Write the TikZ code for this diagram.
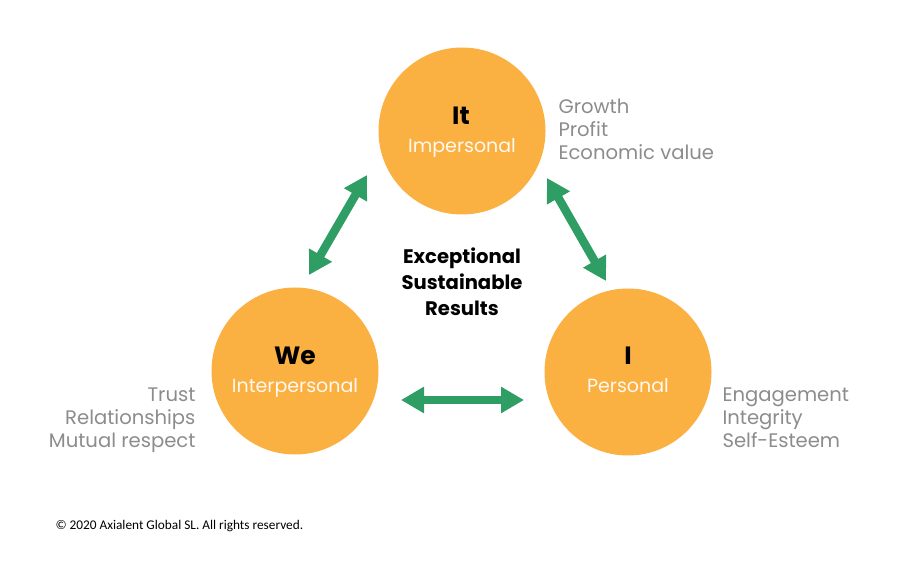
\documentclass[tikz,border=0pt]{standalone}
\usepackage{fontspec}
\setmainfont{Poppins}
\newfontfamily\notefont{Carlito}
\usetikzlibrary{arrows.meta}
\definecolor{ballorange}{RGB}{251,176,66}
\definecolor{arrowgreen}{RGB}{46,158,100}
\definecolor{notegray}{RGB}{140,140,140}
\tikzset{
	ball/.style={circle,fill=ballorange,minimum size=167pt,inner sep=0pt},
	bigname/.style={font=\fontsize{25}{25}\selectfont\bfseries,text=black},
	subname/.style={font=\fontsize{19}{20}\selectfont,text=white!92!ballorange},
	notes/.style={font=\fontsize{19.6}{23}\selectfont,text=notegray},
	link/.style={<->,line width=8.5pt,color=arrowgreen}
}
\begin{document}
\begin{tikzpicture}[>={Triangle[length=23pt,width=25pt]},x=1pt,y=-1pt]
	\useasboundingbox (0,0) rectangle (913,569);
	\node[ball] (it) at (462,131) {};
	\node[ball] (we) at (295,371) {};
	\node[ball] (i) at (628,372) {};
	\node[bigname] (itname) at (461,116) {It};
	\node[subname] (itsub) at (462,148) {Impersonal};
	\node[bigname] (wename) at (295,356) {We};
	\node[subname] (wesub) at (295,388) {Interpersonal};
	\node[bigname] (iname) at (628,356) {I};
	\node[subname] (isub) at (628,386) {Personal};
	\node[notes,anchor=west,align=left] (itnotes) at (555,129) {Growth\\Profit\\Economic value};
	\node[notes,anchor=east,align=right] (wenotes) at (199,420) {Trust\\Relationships\\Mutual respect};
	\node[notes,anchor=west,align=left] (inotes) at (719,418) {Engagement\\Integrity\\Self-Esteem};
	\node[align=center,font=\fontsize{19.6}{26}\selectfont\bfseries] (results) at (462,282) {Exceptional\\Sustainable\\Results};
	\node[anchor=west,font=\notefont\fontsize{13.3}{14}\selectfont] (rights) at (52,526) {© 2020 Axialent Global SL. All rights reserved.};
	\coordinate (wetop) at (309,275);
	\coordinate (itleft) at (367,175);
	\coordinate (itright) at (547,178);
	\coordinate (itop) at (606,281);
	\coordinate (weside) at (401,400);
	\coordinate (iside) at (524,400);
	\draw[link] (wetop)--(itleft);
	\draw[link] (itright)--(itop);
	\draw[link] (weside)--(iside);
\end{tikzpicture}
\end{document}
